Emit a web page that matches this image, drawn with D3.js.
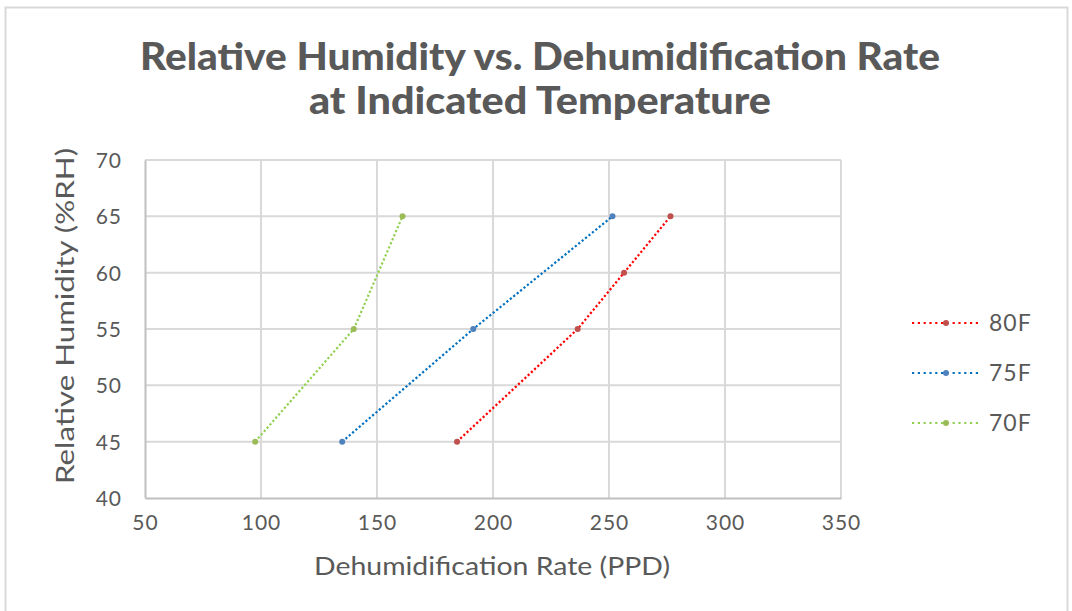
<!DOCTYPE html>
<html lang="en">
<head>
<meta charset="utf-8">
<title>Relative Humidity vs. Dehumidification Rate</title>
<script src="https://d3js.org/d3.v7.min.js"></script>
<style>
  body { margin: 0; background: #fff; }
  * { font-family: Lato, "Open Sans", sans-serif; }
  .tick text { fill: #595959; font-size: 21px; }
</style>
</head>
<body>
<svg class="chart"></svg>
<script>
// series names and colours
const seriesNames = ["80F", "75F", "70F"];
const lineColors = ["#ff0000", "#0070c0", "#92d050"];
const markerColors = ["#c0504d", "#4f81bd", "#9bbb59"];

// points: [rate PPD, %RH]
const data80 = [[184.5, 45], [236.5, 55], [256.5, 60], [276.5, 65]];
const data75 = [[135, 45], [191.5, 55], [251.5, 65]];
const data70 = [[97.5, 45], [140, 55], [161, 65]];

const xTicks = [50, 100, 150, 200, 250, 300, 350];
const yTicks = [40, 45, 50, 55, 60, 65, 70];

const allSeries = [data80, data75, data70];

const W = 1072, H = 611;
const margin = {top: 160, left: 145, right: 231, bottom: 113};
const width = W - margin.left - margin.right,
      height = H - margin.top - margin.bottom;

const svg = d3.select("svg.chart").attr("width", W).attr("height", H);

// outer frame
svg.append("rect")
  .attr("x", 5.5).attr("y", 7.5)
  .attr("width", 1062).attr("height", 640)
  .attr("fill", "none").attr("stroke", "#d9d9d9").attr("stroke-width", 2);

// title
const title = svg.append("g").attr("fill", "#595959")
  .attr("font-weight", 900).attr("font-size", 37).attr("text-anchor", "middle");
title.append("text").attr("x", 540).attr("y", 70)
  .attr("textLength", 800).attr("lengthAdjust", "spacingAndGlyphs")
  .text("Relative Humidity vs. Dehumidification Rate");
title.append("text").attr("x", 540).attr("y", 114)
  .attr("textLength", 462).attr("lengthAdjust", "spacingAndGlyphs")
  .text("at Indicated Temperature");

const g = svg.append("g")
  .attr("transform", "translate(" + margin.left + "," + margin.top + ")");

const x = d3.scaleLinear().domain([50, 350]).range([0, width]);
const y = d3.scaleLinear().domain([40, 70]).range([height, 0]);

// gridlines
g.append("g")
  .selectAll("line.vg")
  .data(xTicks.slice(1))
  .enter().append("line")
  .attr("x1", d => x(d)).attr("x2", d => x(d))
  .attr("y1", 0).attr("y2", height)
  .attr("stroke", "#d9d9d9").attr("stroke-width", 2);
g.append("g")
  .selectAll("line.hg")
  .data(yTicks.slice(1))
  .enter().append("line")
  .attr("x1", 0).attr("x2", width)
  .attr("y1", d => y(d)).attr("y2", d => y(d))
  .attr("stroke", "#d9d9d9").attr("stroke-width", 2);

// axes
const xAxis = g.append("g")
  .attr("transform", "translate(0," + height + ")")
  .call(d3.axisBottom(x).tickValues(xTicks).tickSize(0).tickPadding(17));
const yAxis = g.append("g")
  .call(d3.axisLeft(y).tickValues(yTicks).tickSize(0).tickPadding(23));
[xAxis, yAxis].forEach(a => {
  a.select(".domain").attr("stroke", "#bfbfbf").attr("stroke-width", 2);
  a.selectAll(".tick text").attr("font-family", "Lato, sans-serif")
    .attr("letter-spacing", 1);
});
yAxis.selectAll(".tick text").attr("dy", "0.35em");

// axis titles
svg.append("text")
  .attr("x", 492).attr("y", 575)
  .attr("text-anchor", "middle").attr("fill", "#595959").attr("font-size", 25)
  .attr("textLength", 356).attr("lengthAdjust", "spacingAndGlyphs")
  .text("Dehumidification Rate (PPD)");
svg.append("text")
  .attr("transform", "translate(74,316) rotate(-90)")
  .attr("text-anchor", "middle").attr("fill", "#595959").attr("font-size", 25)
  .attr("textLength", 336).attr("lengthAdjust", "spacingAndGlyphs")
  .text("Relative Humidity (%RH)");

// series
const line = d3.line().x(d => x(d[0])).y(d => y(d[1]));
allSeries.forEach((s, i) => {
  g.append("path")
    .datum(s)
    .attr("d", line)
    .attr("fill", "none")
    .attr("stroke", lineColors[i])
    .attr("stroke-width", 2.2)
    .attr("stroke-dasharray", "2.2 2.2");
  g.selectAll(null)
    .data(s)
    .enter().append("circle")
    .attr("cx", d => x(d[0])).attr("cy", d => y(d[1]))
    .attr("r", 3)
    .attr("fill", markerColors[i]);
});

// legend
const legend = svg.append("g");
seriesNames.forEach((name, i) => {
  const ly = 323 + i * 50;
  legend.append("line")
    .attr("x1", 912).attr("x2", 980).attr("y1", ly).attr("y2", ly)
    .attr("stroke", lineColors[i]).attr("stroke-width", 2.2)
    .attr("stroke-dasharray", "2.2 3.6");
  legend.append("circle")
    .attr("cx", 946).attr("cy", ly).attr("r", 3).attr("fill", markerColors[i]);
  legend.append("text")
    .attr("x", 989).attr("y", ly).attr("dy", "0.35em")
    .attr("fill", "#595959").attr("font-size", 23).attr("letter-spacing", 1)
    .text(name);
});
</script>
</body>
</html>
